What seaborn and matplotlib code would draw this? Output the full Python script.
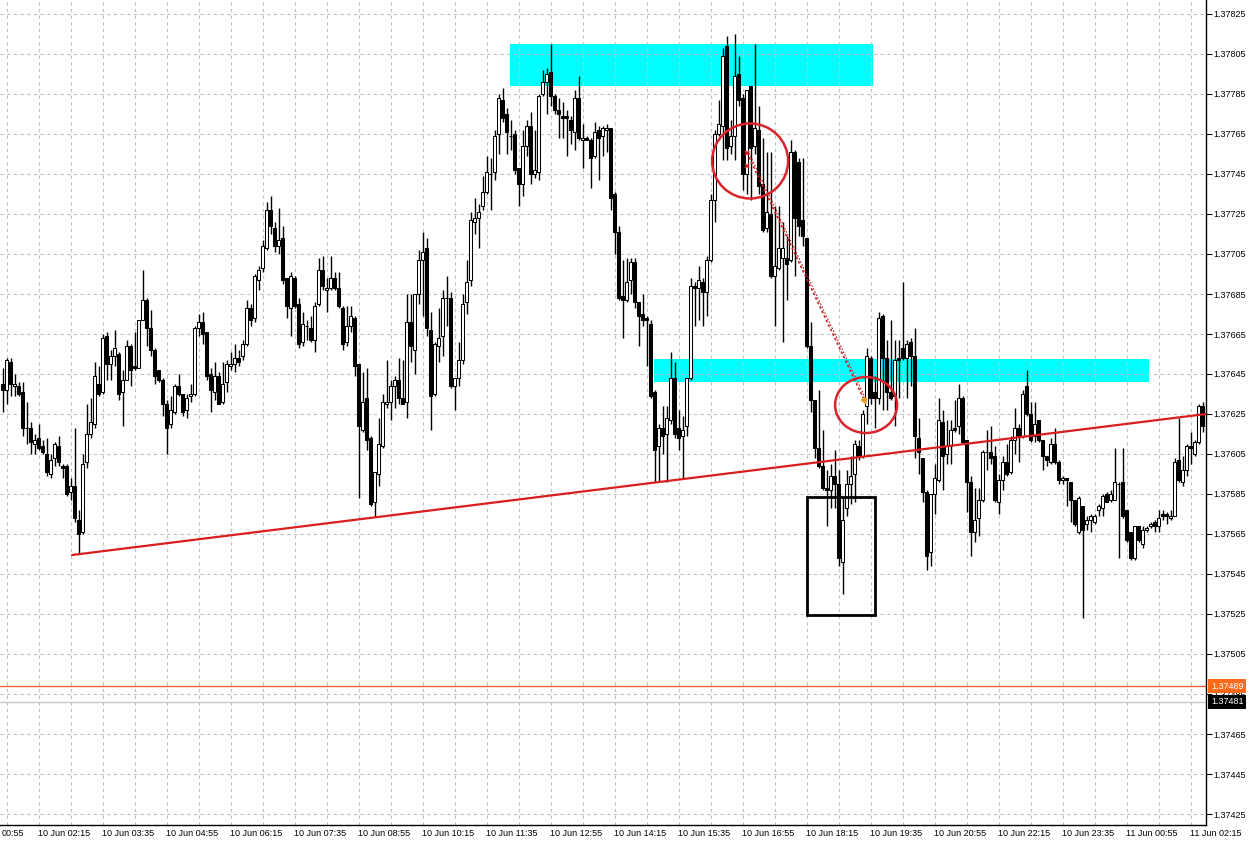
import numpy as np
import pandas as pd
import seaborn as sns
import matplotlib.pyplot as plt
from matplotlib.patches import Rectangle, Ellipse
from matplotlib import transforms

# 5-minute candles, values in fifth-decimal points above 1.37000
open_pts = [
    640, 637, 651, 639, 639, 636, 618, 618, 610, 613, 609, 605, 595, 603, 609, 599, 599, 586, 589, 572,
    566, 601, 615, 620, 640, 636, 664, 650, 654, 655, 636, 642, 659, 649, 648, 672, 682, 668, 657, 647,
    642, 630, 620, 626, 639, 635, 627, 634, 635, 668, 671, 666, 645, 636, 644, 631, 641, 649, 650, 653,
    654, 660, 678, 673, 692, 698, 708, 727, 718, 709, 713, 693, 678, 693, 680, 661, 669, 668, 662, 680,
    697, 687, 688, 693, 688, 678, 661, 669, 673, 650, 617, 633, 613, 581, 595, 609, 630, 631, 639, 642,
    633, 631, 671, 657, 685, 702, 708, 667, 635, 659, 664, 683, 683, 639, 643, 652, 681, 692, 721, 723,
    729, 736, 745, 746, 765, 782, 775, 764, 765, 748, 740, 759, 769, 745, 746, 785, 791, 796, 784, 777,
    774, 774, 772, 766, 783, 762, 763, 762, 754, 767, 764, 767, 768, 735, 716, 684, 682, 692, 701, 681,
    675, 673, 670, 636, 609, 618, 615, 622, 643, 618, 614, 619, 643, 689, 688, 691, 686, 702, 732, 765,
    769, 809, 759, 764, 795, 783, 745, 789, 759, 767, 740, 718, 725, 694, 698, 703, 703, 702, 756, 751,
    722, 713, 659, 632, 608, 599, 588, 587, 594, 590, 551, 578, 590, 595, 609, 604, 629, 653, 636, 633,
    674, 653, 636, 634, 653, 658, 653, 661, 654, 613, 603, 586, 556, 585, 592, 621, 605, 609, 618, 619,
    633, 612, 591, 566, 573, 582, 606, 606, 604, 581, 592, 601, 596, 612, 618, 614, 639, 625, 614, 622,
    612, 604, 601, 610, 601, 592, 593, 591, 582, 566, 579, 570, 572, 571, 577, 578, 585, 582, 582, 590,
    591, 577, 566, 553, 569, 560, 567, 569, 571, 569, 575, 575, 573, 574, 602, 591, 597, 609, 605, 611,
    629,
]
high_pts = [
    648, 653, 653, 645, 641, 641, 631, 621, 615, 620, 612, 613, 605, 611, 614, 600, 600, 593, 618, 577,
    605, 630, 633, 651, 649, 665, 666, 657, 667, 656, 647, 662, 660, 666, 672, 697, 683, 677, 658, 647,
    643, 632, 634, 640, 645, 635, 635, 640, 669, 675, 676, 666, 648, 651, 646, 651, 652, 656, 660, 657,
    662, 682, 680, 695, 699, 712, 731, 734, 721, 728, 719, 693, 696, 694, 683, 676, 672, 674, 681, 703,
    704, 693, 704, 696, 696, 679, 679, 679, 674, 650, 646, 648, 614, 596, 623, 635, 652, 642, 644, 653,
    652, 685, 685, 685, 707, 716, 713, 676, 661, 678, 687, 694, 686, 643, 661, 685, 702, 726, 733, 730,
    744, 754, 753, 767, 785, 788, 778, 772, 767, 748, 767, 772, 776, 767, 785, 797, 798, 810, 785, 783,
    781, 777, 774, 787, 794, 770, 764, 763, 771, 769, 769, 770, 768, 736, 719, 702, 703, 703, 703, 681,
    685, 674, 672, 637, 620, 629, 629, 656, 651, 627, 624, 643, 693, 691, 699, 693, 704, 735, 767, 782,
    808, 814, 772, 815, 804, 785, 787, 789, 810, 779, 763, 756, 756, 729, 729, 721, 714, 762, 757, 753,
    753, 713, 671, 632, 637, 617, 597, 600, 607, 597, 583, 597, 604, 612, 612, 627, 658, 654, 644, 676,
    675, 662, 672, 662, 662, 691, 662, 663, 668, 623, 603, 587, 585, 600, 633, 627, 622, 622, 632, 640,
    634, 612, 594, 588, 588, 607, 617, 619, 609, 595, 604, 610, 614, 628, 620, 637, 647, 631, 631, 622,
    612, 604, 613, 618, 602, 594, 593, 591, 582, 584, 579, 574, 575, 575, 580, 585, 586, 587, 608, 591,
    608, 577, 566, 569, 569, 569, 569, 571, 572, 577, 577, 576, 577, 603, 623, 604, 610, 616, 612, 630,
    631,
]
low_pts = [
    626, 630, 634, 634, 634, 614, 610, 605, 605, 607, 605, 594, 593, 599, 599, 593, 584, 582, 571, 555,
    565, 598, 613, 618, 634, 635, 642, 642, 649, 632, 619, 642, 639, 647, 648, 672, 659, 654, 640, 641,
    624, 605, 618, 625, 634, 624, 623, 631, 634, 664, 660, 642, 626, 632, 630, 630, 636, 647, 646, 649,
    652, 659, 669, 671, 687, 696, 707, 715, 706, 705, 690, 673, 664, 678, 658, 659, 662, 661, 656, 679,
    687, 676, 687, 687, 678, 657, 659, 666, 644, 583, 616, 607, 579, 574, 589, 608, 628, 622, 628, 630,
    630, 623, 651, 645, 680, 674, 664, 617, 634, 651, 654, 669, 638, 627, 639, 650, 675, 689, 715, 708,
    727, 735, 727, 742, 755, 771, 755, 757, 745, 729, 734, 754, 740, 743, 742, 784, 775, 779, 775, 763,
    763, 754, 760, 757, 762, 748, 762, 738, 753, 742, 754, 756, 727, 705, 682, 663, 681, 685, 678, 659,
    669, 649, 633, 591, 591, 605, 591, 620, 613, 607, 593, 614, 642, 669, 672, 669, 674, 701, 721, 764,
    752, 752, 755, 752, 779, 737, 735, 732, 755, 735, 716, 716, 693, 669, 697, 661, 682, 701, 694, 714,
    709, 658, 626, 603, 598, 587, 569, 578, 578, 549, 535, 574, 580, 581, 602, 603, 620, 630, 618, 630,
    627, 627, 632, 619, 633, 652, 633, 639, 603, 595, 581, 547, 549, 575, 591, 587, 600, 600, 616, 615,
    610, 576, 554, 561, 564, 581, 597, 600, 581, 575, 587, 594, 595, 605, 601, 613, 624, 611, 611, 611,
    597, 599, 600, 600, 590, 590, 579, 571, 569, 565, 523, 567, 566, 570, 574, 574, 581, 581, 582, 553,
    573, 561, 552, 552, 561, 558, 566, 568, 566, 566, 572, 570, 572, 574, 591, 589, 594, 600, 604, 610,
    616,
]
close_pts = [
    637, 652, 640, 640, 635, 618, 618, 611, 612, 608, 606, 596, 602, 610, 601, 598, 585, 589, 573, 565,
    600, 615, 621, 644, 635, 663, 650, 654, 658, 635, 642, 659, 647, 648, 672, 682, 668, 657, 644, 642,
    630, 618, 627, 639, 635, 626, 633, 635, 668, 671, 665, 644, 637, 644, 630, 640, 650, 650, 653, 651,
    660, 678, 672, 694, 697, 709, 727, 719, 709, 712, 692, 679, 694, 679, 660, 670, 669, 662, 679, 697,
    689, 688, 693, 688, 679, 660, 669, 674, 649, 619, 631, 612, 580, 596, 610, 631, 631, 639, 642, 633,
    630, 671, 659, 685, 702, 706, 668, 634, 660, 663, 683, 683, 639, 643, 652, 680, 691, 722, 723, 726,
    736, 746, 745, 764, 783, 773, 766, 764, 747, 740, 759, 769, 745, 747, 784, 791, 795, 784, 777, 775,
    773, 773, 767, 783, 763, 763, 762, 753, 766, 763, 768, 768, 733, 716, 683, 682, 691, 701, 681, 674,
    672, 672, 634, 607, 618, 614, 623, 643, 615, 613, 617, 643, 689, 688, 692, 686, 702, 732, 765, 770,
    804, 758, 764, 794, 782, 745, 787, 758, 768, 739, 717, 726, 694, 699, 708, 708, 700, 756, 723, 719,
    714, 659, 632, 608, 599, 588, 587, 594, 590, 553, 572, 590, 594, 610, 604, 625, 654, 633, 633, 673,
    653, 636, 633, 652, 652, 653, 660, 654, 614, 606, 586, 554, 585, 593, 622, 604, 609, 617, 617, 633,
    611, 591, 566, 572, 582, 606, 606, 603, 582, 592, 601, 595, 612, 618, 614, 635, 625, 612, 620, 612,
    604, 602, 610, 601, 592, 593, 592, 582, 570, 583, 567, 572, 574, 574, 579, 584, 581, 585, 591, 590,
    574, 562, 553, 569, 562, 567, 568, 570, 569, 573, 574, 574, 574, 601, 592, 597, 609, 608, 611, 629,
    619,
]

price_ticks = [1.37425, 1.37445, 1.37465, 1.37485, 1.37505, 1.37525, 1.37545, 1.37565, 1.37585,
               1.37605, 1.37625, 1.37645, 1.37665, 1.37685, 1.37705, 1.37725, 1.37745, 1.37765,
               1.37785, 1.37805, 1.37825]
# first label is only partly on screen in the terminal, just its time shows
time_labels = ["00:55", "10 Jun 02:15", "10 Jun 03:35", "10 Jun 04:55", "10 Jun 06:15",
               "10 Jun 07:35", "10 Jun 08:55", "10 Jun 10:15", "10 Jun 11:35", "10 Jun 12:55",
               "10 Jun 14:15", "10 Jun 15:35", "10 Jun 16:55", "10 Jun 18:15", "10 Jun 19:35",
               "10 Jun 20:55", "10 Jun 22:15", "10 Jun 23:35", "11 Jun 00:55", "11 Jun 02:15"]
ask_price = 1.37489
bid_price = 1.37481

base = 1.37
df = pd.DataFrame({
    "open": base + np.array(open_pts) / 1e5,
    "high": base + np.array(high_pts) / 1e5,
    "low": base + np.array(low_pts) / 1e5,
    "close": base + np.array(close_pts) / 1e5,
})
df["bar"] = np.arange(len(df))
df["bull"] = df["close"] >= df["open"]
df["body_lo"] = df[["open", "close"]].min(axis=1)
df["body_h"] = (df["close"] - df["open"]).abs()

sns.set_style("white")
plt.rcParams["font.family"] = ["Liberation Sans", "DejaVu Sans"]

W, H = 1252, 847
fig = plt.figure(figsize=(W / 100, H / 100), dpi=100)
ax = fig.add_axes([0, 22 / H, 1206 / W, 825 / H])
ax.set_xlim(-0.625, 300.875)
ax.set_ylim(1.374195, 1.37832)

# background objects
ax.add_patch(Rectangle((126.9, 1.37789), 90.7, 0.00021, color="#00FFFF", lw=0, zorder=0.1))
ax.add_patch(Rectangle((162.9, 1.37641), 123.7, 0.000115, color="#00FFFF", lw=0, zorder=0.1))

# grid
ax.set_axisbelow(True)
label_pos = [-7 + 16 * k for k in range(len(time_labels))]
ax.set_xticks([p for p in label_pos if p >= 0])
ax.set_xticks(np.arange(1, 301, 8), minor=True)
ax.set_xticklabels([])
ax.set_yticks(price_ticks)
ax.set_yticklabels([f"{p:.5f}" for p in price_ticks])
grid_kw = dict(color="#C0C0C0", linestyle=(0, (3, 3)), linewidth=0.8)
ax.grid(True, which="both", axis="x", **grid_kw)
ax.grid(True, which="major", axis="y", **grid_kw)

# candles
ax.vlines(df["bar"], df["low"], df["high"], color="black", linewidth=1.0, zorder=2)
ax.bar(df["bar"], df["body_h"], bottom=df["body_lo"], width=0.72,
       color=np.where(df["bull"], "white", "black"), edgecolor="black",
       linewidth=0.75, zorder=3)

# price lines
ax.axhline(bid_price, color="#C8C8C8", lw=1.0, zorder=1.5)
ax.axhline(ask_price, color="#F0642A", lw=1.0, zorder=1.5)

# trend line
sns.lineplot(x=[17.4, 300.9], y=[1.375545, 1.37625], color="#D81E1E", lw=1.6, ax=ax, zorder=5)

# annotations
ax.add_patch(Rectangle((201.1, 1.375245), 17.0, 0.00059, fill=False, ec="black", lw=2.0, zorder=6))
ax.add_patch(Ellipse((186.9, 1.377515), 19.0, 0.000375, fill=False, ec="#D9232D", lw=1.8, zorder=6))
ax.add_patch(Ellipse((215.9, 1.376295), 15.5, 0.00028, fill=False, ec="#D9232D", lw=1.8, zorder=6))
ax.plot([186.1, 215.2], [1.377556, 1.37633], color="#C82020", lw=1.2, ls=(0, (1.5, 1.5)), zorder=6)
ax.plot([186.6, 215.7], [1.377556, 1.37633], color="#C82020", lw=0.8, ls=(0, (1.5, 1.5)), zorder=6)
ax.plot([186.1, 186.1], [1.377556, 1.37749], "x", color="#E02020", ms=3, mew=1.2, zorder=7)
ax.plot([215.4], [1.37632], marker=(3, 0, 200), color="#E0A030", ms=5, zorder=7)

# axes styling
for side in ["left", "top"]:
    ax.spines[side].set_visible(False)
for side in ["right", "bottom"]:
    ax.spines[side].set_color("black")
    ax.spines[side].set_linewidth(1.0)
ax.yaxis.tick_right()
ax.tick_params(axis="y", which="major", length=4, width=0.8, pad=1.5, labelsize=6.5,
               colors="black", direction="out")
ax.tick_params(axis="x", which="major", length=4, width=0.8, colors="black", direction="out")
ax.tick_params(axis="x", which="minor", length=0)

base_tr = transforms.blended_transform_factory(ax.transData, ax.transAxes)
lab_tr = transforms.offset_copy(base_tr, fig=fig, x=0, y=-8, units="dots")
for pos, txt in zip(label_pos, time_labels):
    if pos < 0:
        ax.text(2 / 1206, -8 / 825, txt, transform=ax.transAxes, ha="left", va="center",
                fontsize=6.5, color="black", clip_on=False)
    else:
        ax.text(pos, 0, txt, transform=lab_tr, ha="left", va="center", fontsize=6.5,
                color="black", clip_on=False)

ytr = transforms.blended_transform_factory(ax.transAxes, ax.transData)
ax.text(1.0041, ask_price, f"{ask_price:.5f}", transform=ytr, ha="left", va="center",
        fontsize=6.5, color="white", zorder=10, clip_on=False,
        bbox=dict(boxstyle="square,pad=0.3", fc="#FF6A1A", ec="none"))
ax.text(1.0041, bid_price, f"{bid_price:.5f}", transform=ytr, ha="left", va="center",
        fontsize=6.5, color="white", zorder=10, clip_on=False,
        bbox=dict(boxstyle="square,pad=0.3", fc="black", ec="none"))

fig.savefig("out.png", dpi=100)
